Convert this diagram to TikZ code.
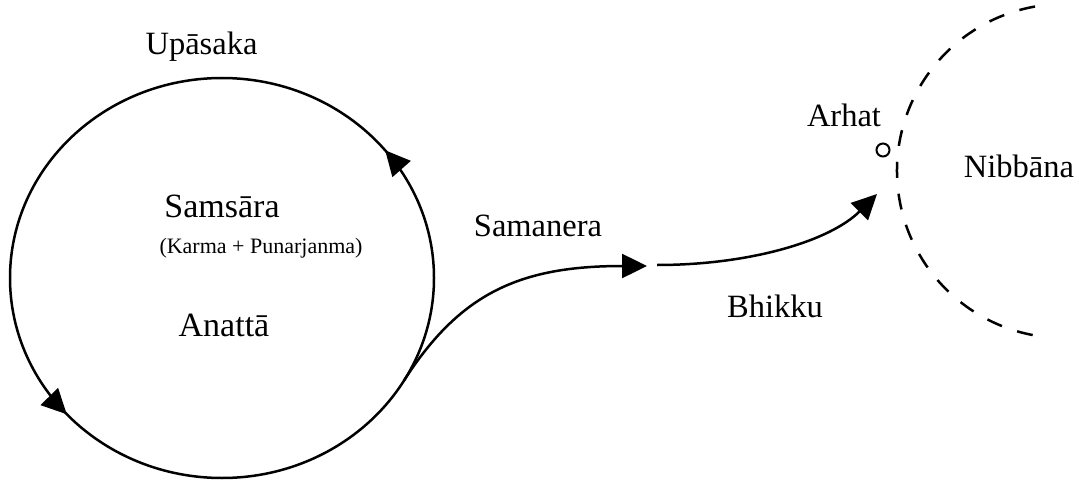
\documentclass[tikz,border=0pt]{standalone}
\usepackage{fontspec}
\setmainfont{Liberation Serif}
\usetikzlibrary{arrows.meta,decorations.markings}
\begin{document}
\begin{tikzpicture}[x=1pt,y=1pt,
  line width=2.5pt,
  tipstyle/.tip={Triangle[length=25pt,width=24pt]},
  label/.style={anchor=base,inner sep=0pt,font=\fontsize{32.5}{36}\selectfont},
  biglabel/.style={anchor=base,inner sep=0pt,font=\fontsize{34}{38}\selectfont},
  smalllabel/.style={anchor=base,inner sep=0pt,font=\fontsize{22}{25}\selectfont},
  cycle/.style={postaction={decorate},decoration={markings,
      mark=at position 0.108 with {\arrow{tipstyle}},
      mark=at position 0.617 with {\arrow{tipstyle}}}},
  beyond/.style={dash pattern=on 16pt off 16pt}]
\useasboundingbox (0,0) rectangle (1079,483);

% the cycle of samsara
\coordinate (samsara) at (222,205);
\draw[cycle] (samsara) ellipse [x radius=212pt, y radius=200pt];

% the realm beyond
\coordinate (nibbanacentre) at (1064,312);
\draw[beyond] (nibbanacentre) ++(100:167pt) arc[start angle=100, end angle=260, radius=167pt];

% the path out of the cycle
\coordinate (leave) at (403.7,102);
\coordinate (novice) at (647,217);
\coordinate (monk) at (657,218);
\coordinate (goal) at (877,289);
\draw[-{tipstyle}] (leave) .. controls (460,190) and (520,217) .. (novice);
\draw[-{tipstyle}] (monk) .. controls (750,218) and (830,242) .. (goal);

% arhat marker
\node[circle,draw,line width=2pt,minimum size=13pt,inner sep=0pt] (arhat) at (883,333) {};

% labels
\node[label] (upasaka) at (201.5,428) {Upāsaka};
\node[biglabel] (samsaratext) at (222,266) {Samsāra};
\node[smalllabel] (karma) at (261,230) {(Karma + Punarjanma)};
\node[biglabel] (anatta) at (224,147) {Anattā};
\node[label] (samanera) at (538,247) {Samanera};
\node[label] (bhikku) at (775,166) {Bhikku};
\node[label] (arhattext) at (844,356) {Arhat};
\node[label] (nibbana) at (1019,306) {Nibbāna};
\end{tikzpicture}
\end{document}
